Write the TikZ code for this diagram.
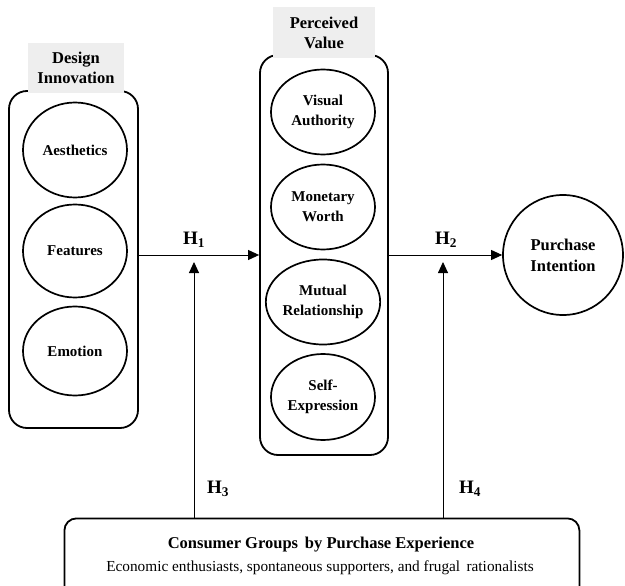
\documentclass[tikz,border=0pt]{standalone}
\usepackage{fontspec}
\setmainfont{Liberation Serif}
\usetikzlibrary{shapes.geometric,arrows.meta}
\definecolor{labelgrey}{RGB}{238,238,238}
\begin{document}
\begin{tikzpicture}[x=1pt,y=-1pt,
  groupbox/.style={draw,line width=1.8pt,rounded corners=18pt,inner sep=0pt},
  tagbox/.style={fill=labelgrey,inner sep=0pt,align=center,font=\fontsize{16.5}{20}\selectfont\bfseries},
  construct/.style={draw,ellipse,line width=1.7pt,inner sep=0pt,minimum width=104pt,align=center,font=\fontsize{15}{20}\selectfont\bfseries},
  hlabel/.style={font=\fontsize{19}{22}\selectfont\bfseries},
  link/.style={line width=0.9pt,-{Triangle[length=11pt,width=10pt]}}]
\useasboundingbox (0,0) rectangle (625,586);
% groups
\node[groupbox,minimum width=129pt,minimum height=337pt] (dibox) at (73.5,259.5) {};
\node[tagbox,minimum width=96pt,minimum height=50pt] (ditag) at (76,68) {Design\\Innovation};
\node[groupbox,minimum width=128pt,minimum height=400pt] (pvbox) at (324,255) {};
\node[tagbox,minimum width=102pt,minimum height=51pt] (pvtag) at (324,32.5) {Perceived\\Value};
% design innovation
\node[construct,minimum height=95pt] (aes) at (75,150) {Aesthetics};
\node[construct,minimum height=93pt] (fea) at (75,251) {Features};
\node[construct,minimum height=89pt] (emo) at (75,351) {Emotion};
% perceived value
\node[construct,minimum height=85pt] (vis) at (323,112) {Visual\\Authority};
\node[construct,minimum height=85pt] (mon) at (323,207) {Monetary\\Worth};
\node[construct,minimum height=85pt] (mut) at (323,302) {Mutual\\Relationship};
\node[construct,minimum height=86pt] (sel) at (323,397) {Self-\\Expression};
% purchase intention
\node[draw,circle,line width=1.7pt,minimum size=120pt,inner sep=0pt,align=center,
      font=\fontsize{16.5}{21}\selectfont\bfseries] (pi) at (563,255) {Purchase\\Intention};
% consumer groups
\node[groupbox,rounded corners=12pt,minimum width=515pt,minimum height=90pt,anchor=north west] (cg) at (63.5,517.5) {};
\node[font=\fontsize{16.5}{18}\selectfont\bfseries] (cgtitle) at (321,545) {Consumer Groups\, by Purchase Experience};
\node[font=\fontsize{15.3}{18}\selectfont] (cgsub) at (320,568) {Economic enthusiasts, spontaneous supporters, and frugal\, rationalists};
% arrows
\draw[link] (dibox.east |- pvbox.west) -- (pvbox.west);
\draw[link] (pvbox.east) -- (pi.west);
\coordinate (h3end) at (194,262);
\coordinate (h4end) at (443,262);
\draw[link] (h3end |- cg.north) -- (h3end);
\draw[link] (h4end |- cg.north) -- (h4end);
% labels
\node[hlabel] (h1) at (194,240) {H$_{\mathbf 1}$};
\node[hlabel] (h2) at (446,240) {H$_{\mathbf 2}$};
\node[hlabel] (h3) at (218,489) {H$_{\mathbf 3}$};
\node[hlabel] (h4) at (470,489) {H$_{\mathbf 4}$};
\end{tikzpicture}
\end{document}
